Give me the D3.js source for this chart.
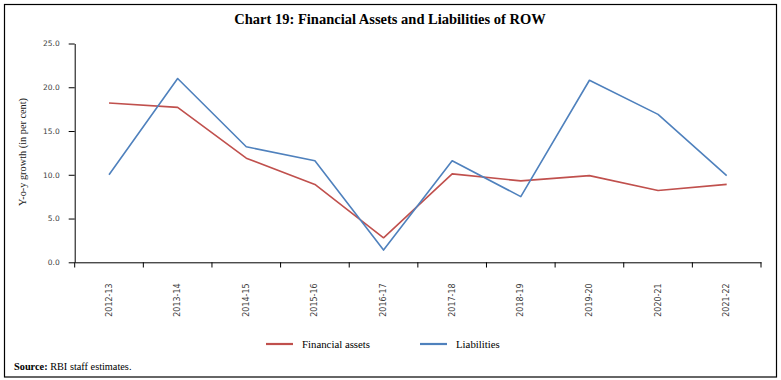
<!DOCTYPE html>
<html><head><meta charset="utf-8">
<script src="https://cdn.jsdelivr.net/npm/d3@7"></script>
<style>body{margin:0;background:#fff}svg{display:block}</style>
</head><body>
<script>
const categories = ["2012-13","2013-14","2014-15","2015-16","2016-17","2017-18","2018-19","2019-20","2020-21","2021-22"];
const financialAssets = [18.2, 17.7, 11.9, 8.9, 2.8, 10.1, 9.3, 9.9, 8.2, 8.9];
const liabilities = [10.0, 21.0, 13.2, 11.6, 1.4, 11.6, 7.5, 20.8, 16.9, 9.9];
const yTicks = [0, 5, 10, 15, 20, 25];
const seriesNames = ["Financial assets", "Liabilities"];
const colors = ["#C0504D", "#4F81BD"];

const W = 781, H = 380;
const svg = d3.select("body").append("svg").attr("width", W).attr("height", H);
svg.append("rect").attr("x", 4.5).attr("y", 4.5).attr("width", 772).attr("height", 372.5)
  .attr("fill", "none").attr("stroke", "#000").attr("stroke-width", 1.2);

svg.append("text").attr("x", 390).attr("y", 24).attr("text-anchor", "middle")
  .attr("font-family", "Liberation Serif").attr("font-weight", "bold").attr("font-size", 14.5)
  .attr("fill", "#000").text("Chart 19: Financial Assets and Liabilities of ROW");

const x = d3.scaleBand().domain(categories).range([74.7, 761]);
const y = d3.scaleLinear().domain([0, 25]).range([262.3, 43.5]);

// y axis
const ya = svg.append("g").attr("transform", "translate(74.7,0)")
  .call(d3.axisLeft(y).tickValues(yTicks).tickFormat(d3.format(".1f")).tickSize(6).tickSizeOuter(0).tickPadding(9));
ya.selectAll("text").attr("font-family", "DejaVu Sans").attr("font-size", 7.5).attr("fill", "#404040");
ya.select(".domain").attr("stroke", "#000");
ya.selectAll("line").attr("stroke", "#000");

// x axis
const xa = svg.append("g").attr("transform", "translate(0,262.3)")
  .call(d3.axisBottom(x).tickSize(0).tickSizeOuter(0));
xa.select(".domain").attr("stroke", "#000");
xa.selectAll(".tick text").attr("font-family", "DejaVu Sans").attr("font-size", 8).attr("fill", "#404040")
  .attr("text-anchor", "end").attr("transform", "rotate(-90)").attr("x", -21).attr("y", 0).attr("dy", "0.32em");
const bounds = categories.map(c => x(c)).concat([x.range()[1]]);
svg.append("g").selectAll("line").data(bounds).join("line")
  .attr("x1", d => d).attr("x2", d => d).attr("y1", 262.3).attr("y2", 267.5).attr("stroke", "#000");

// y title
svg.append("text").attr("transform", "translate(26,152) rotate(-90)").attr("text-anchor", "middle")
  .attr("font-family", "Liberation Serif").attr("font-size", 10.3).attr("fill", "#222")
  .text("Y-o-y growth (in per cent)");

const line = d3.line().x((d, i) => x(categories[i]) + x.bandwidth() / 2).y(d => y(d));
[financialAssets, liabilities].forEach((s, k) => {
  svg.append("path").datum(s).attr("d", line).attr("fill", "none")
    .attr("stroke", colors[k]).attr("stroke-width", 1.6).attr("stroke-linejoin", "round");
});

// legend
const legX = [266, 420];
seriesNames.forEach((n, k) => {
  svg.append("line").attr("x1", legX[k]).attr("x2", legX[k] + 27).attr("y1", 344).attr("y2", 344)
    .attr("stroke", colors[k]).attr("stroke-width", 2.2);
  svg.append("text").attr("x", legX[k] + 36).attr("y", 347.5).attr("font-family", "Liberation Serif")
    .attr("font-size", 10.8).attr("fill", "#000").text(n);
});

// source
const src = svg.append("text").attr("x", 14).attr("y", 369.5).attr("font-family", "Liberation Serif")
  .attr("font-size", 10.3).attr("fill", "#000");
src.append("tspan").attr("font-weight", "bold").text("Source:");
src.append("tspan").text(" RBI staff estimates.");
</script>
</body></html>
